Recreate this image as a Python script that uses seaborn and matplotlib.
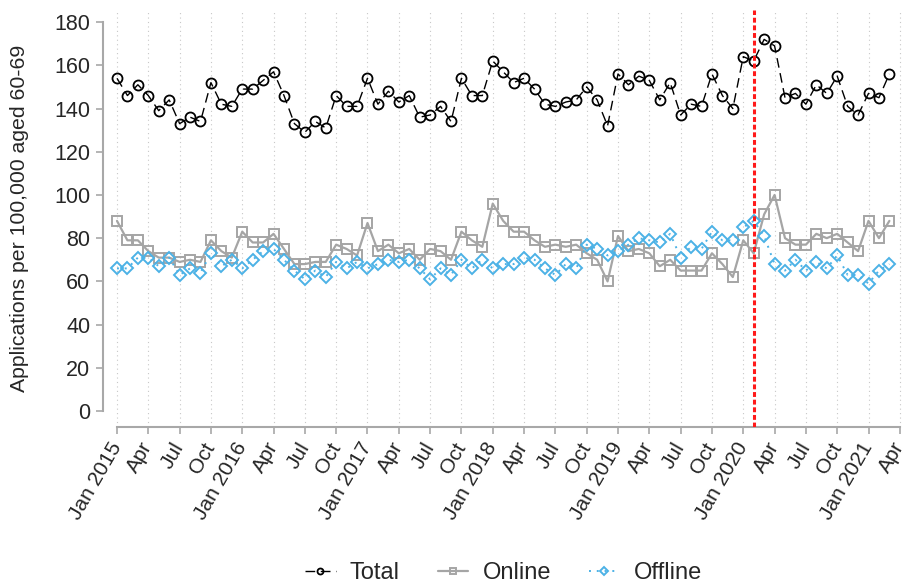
import numpy as np
import pandas as pd
import matplotlib
matplotlib.use("Agg")
import matplotlib.pyplot as plt
import seaborn as sns

# monthly values, Jan 2015 - Mar 2021
total = [154, 146, 151, 146, 139, 144, 133, 136, 134, 152, 142, 141,
         149, 149, 153, 157, 146, 133, 129, 134, 131, 146, 141, 141,
         154, 142, 148, 143, 146, 136, 137, 141, 134, 154, 146, 146,
         162, 157, 152, 154, 149, 142, 141, 143, 144, 150, 144, 132,
         156, 151, 155, 153, 144, 152, 137, 142, 141, 156, 146, 140,
         164, 162, 172, 169, 145, 147, 142, 151, 147, 155, 141, 137,
         147, 145, 156]
online = [88, 79, 79, 74, 71, 71, 69, 70, 69, 79, 74, 71,
          83, 78, 78, 82, 75, 68, 68, 69, 69, 77, 75, 72,
          87, 74, 77, 73, 75, 70, 75, 74, 70, 83, 79, 76,
          96, 88, 83, 83, 79, 76, 77, 76, 77, 73, 70, 60,
          81, 74, 75, 73, 67, 70, 65, 65, 65, 73, 68, 62,
          79, 73, 91, 100, 80, 77, 77, 82, 80, 82, 78, 74,
          88, 80, 88]
offline = [66, 66, 71, 71, 67, 71, 63, 66, 64, 73, 67, 70,
           66, 70, 74, 75, 70, 65, 61, 65, 62, 69, 66, 69,
           66, 68, 70, 69, 70, 66, 61, 66, 63, 70, 66, 70,
           66, 68, 68, 71, 70, 66, 63, 68, 66, 77, 75, 72,
           74, 77, 80, 79, 78, 82, 71, 76, 75, 83, 79, 79,
           85, 88, 81, 68, 65, 70, 65, 69, 66, 72, 63, 63,
           59, 65, 68]
tick_labels = ["Jan 2015", "Apr", "Jul", "Oct", "Jan 2016", "Apr", "Jul", "Oct",
               "Jan 2017", "Apr", "Jul", "Oct", "Jan 2018", "Apr", "Jul", "Oct",
               "Jan 2019", "Apr", "Jul", "Oct", "Jan 2020", "Apr", "Jul", "Oct",
               "Jan 2021", "Apr"]
break_month = 61  # Feb 2020

month = np.arange(len(total))
ticks = np.arange(0, 3 * len(tick_labels), 3)

sns.set_style("white")
plt.rcParams['font.family'] = ['Liberation Sans', 'DejaVu Sans']

fig = plt.figure(figsize=(9.04, 5.87), dpi=100)
ax = fig.add_axes([103 / 904, 160 / 587, 801 / 904, 417 / 587])

# vertical dotted grid at quarter ticks
for t in ticks:
    ax.axvline(t, color="#c8c8c8", lw=0.8, ls=(0, (1, 3)), zorder=0)

sns.lineplot(x=month, y=total, ax=ax, color="black", lw=1,
             linestyle=(0, (7, 4)), marker="o", markersize=7.2,
             markerfacecolor="none", markeredgecolor="black",
             markeredgewidth=1.3, label="Total")
sns.lineplot(x=month, y=online, ax=ax, color="#a5a5a5", lw=1.6,
             marker="s", markersize=7.2, markerfacecolor="none",
             markeredgecolor="#a5a5a5", markeredgewidth=1.4, label="Online")
sns.lineplot(x=month, y=offline, ax=ax, color="#4cb2e6", lw=1.4,
             linestyle=(0, (1, 3)), marker="D", markersize=6.3,
             markerfacecolor="none", markeredgecolor="#4cb2e6",
             markeredgewidth=1.4, label="Offline")

ax.axvline(break_month, color="#ff1a1a", lw=2.2, ls=(0, (1.6, 0.9)), zorder=5)

ax.set_ylim(-7.4, 185.6)
ax.set_xlim(-1.34, 75.4)
ax.set_yticks(np.arange(0, 181, 20))
ax.set_yticklabels([str(v) for v in range(0, 181, 20)], fontsize=15.5)
ax.set_xticks(ticks)
ax.set_xticklabels(tick_labels, rotation=60, ha="right", va="center",
                   rotation_mode="anchor", fontsize=15)
ax.tick_params(axis="both", length=5, width=1.2, color="#a8a8a8",
               direction="out", left=True, bottom=True)
ax.tick_params(axis="y", pad=4)
ax.tick_params(axis="x", pad=7)
ax.set_ylabel("Applications per 100,000 aged 60-69", fontsize=15.3, labelpad=18)
ax.set_xlabel("")

for s in ["top", "right"]:
    ax.spines[s].set_visible(False)
for s in ["left", "bottom"]:
    ax.spines[s].set_color("#a8a8a8")
    ax.spines[s].set_linewidth(1.5)
ax.spines["left"].set_bounds(0, 180)
ax.spines["bottom"].set_bounds(0, 75)

handles, labels = ax.get_legend_handles_labels()
ax.get_legend().remove()
fig.legend(handles, labels, loc="center", bbox_to_anchor=(0.557, 0.024),
           ncol=3, frameon=False, fontsize=17, markerscale=0.6,
           handlelength=1.3, handletextpad=0.6, columnspacing=1.6)

fig.savefig("out.png", dpi=100)
